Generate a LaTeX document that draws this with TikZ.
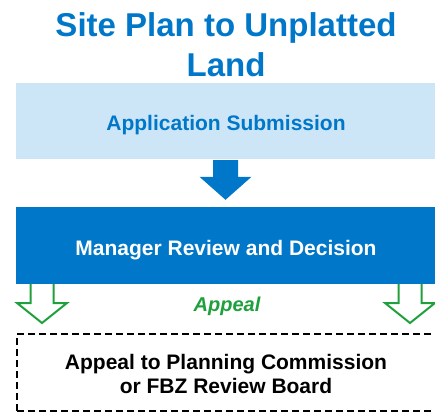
\documentclass[tikz,border=0pt]{standalone}
\usepackage{fontspec}
\setmainfont{Liberation Sans}
\usetikzlibrary{calc}
\definecolor{mainblue}{RGB}{0,119,200}
\definecolor{lightblue}{RGB}{204,230,248}
\definecolor{appealgreen}{RGB}{30,160,60}
\begin{document}
\begin{tikzpicture}[x=1pt,y=-1pt,
  titletext/.style={font=\bfseries\fontsize{33}{40}\selectfont, text=mainblue, inner sep=0pt, anchor=base},
  stagebox/.style={minimum width=420pt, minimum height=77pt, inner sep=0pt, font=\bfseries\fontsize{21}{24}\selectfont, align=center},
  onelinetext/.style={text height=19pt, text depth=0pt},
  greenarrow/.style={draw=appealgreen, line width=2pt, line join=miter},
]
\useasboundingbox (0,0) rectangle (435,414);

\node[titletext] (t1) at (226,37) {Site Plan to Unplatted};
\node[titletext] (t2) at (226,77) {Land};

\node[stagebox, onelinetext, fill=lightblue, text=mainblue, minimum height=76pt] (app) at (226,121) {Application Submission};

% green appeal arrows (drawn before box so box covers their top)
\coordinate (gl) at (42,284);
\coordinate (gr) at (410,284);
\foreach \c in {gl,gr}{
  \draw[greenarrow] ($(\c)+(-11.5,-1)$) -- ($(\c)+(-11.5,19)$) -- ($(\c)+(-25,19)$) -- ($(\c)+(0,39)$) -- ($(\c)+(25,19)$) -- ($(\c)+(11.5,19)$) -- ($(\c)+(11.5,-1)$);
}

\node[stagebox, onelinetext, fill=mainblue, text=white] (mgr) at (226,245.5) {Manager Review and Decision};

% dashed appeal box, running past the right edge of the picture
\node[stagebox, draw=black, line width=2pt, dash pattern=on 7pt off 4pt, minimum width=438pt, minimum height=77pt] (apl) at (236,372.5) {};
\node[font=\bfseries\fontsize{21}{24}\selectfont, align=center, inner sep=0pt] (apltext) at ($(apl.center)+(-10,1.5)$) {Appeal to Planning Commission\\or FBZ Review Board};

% blue block arrow
\coordinate (btop) at ($(app.south)+(-0.5,1)$);
\coordinate (btip) at ($(mgr.north)+(-0.5,-7)$);
\fill[mainblue] ($(btop)+(-12.5,0)$) -- ($(btop)+(12.5,0)$) -- ($(btip)+(12.5,-23)$) -- ($(btip)+(26,-23)$) -- (btip) -- ($(btip)+(-26,-23)$) -- ($(btip)+(-12.5,-23)$) -- cycle;

\node[font=\bfseries\itshape\fontsize{20}{24}\selectfont, text=appealgreen, anchor=base, inner sep=0pt] (appeal) at (227,311) {Appeal};
\end{tikzpicture}
\end{document}
